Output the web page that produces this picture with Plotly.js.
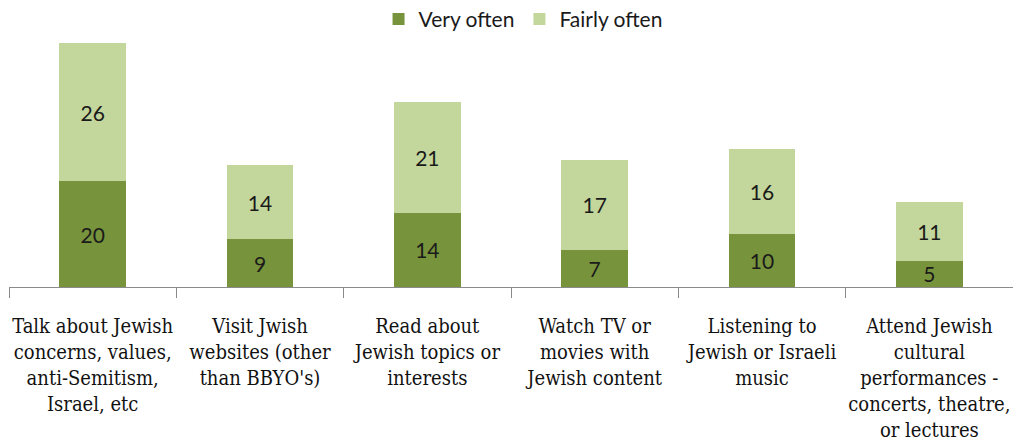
<!DOCTYPE html>
<html><head><meta charset="utf-8">
<script src="https://cdn.plot.ly/plotly-3.0.1.min.js"></script>
<style>html,body{margin:0;padding:0;background:#fff}#c{width:1013px;height:443px}</style>
</head><body><div id="c"></div>
<script>
const categories = [
  "Talk about Jewish<br>concerns, values,<br>anti-Semitism,<br>Israel, etc",
  "Visit Jwish<br>websites (other<br>than BBYO's)",
  "Read about<br>Jewish topics or<br>interests",
  "Watch TV or<br>movies with<br>Jewish content",
  "Listening to<br>Jewish or Israeli<br>music",
  "Attend Jewish<br>cultural<br>performances -<br>concerts, theatre,<br>or lectures"
];
const veryOften = [20, 9, 14, 7, 10, 5];
const fairlyOften = [26, 14, 21, 17, 16, 11];
const seriesNames = ["Very often", "Fairly often"];

const labelFont = {family: "Lato", size: 21, color: "#1a1a1a"};
const traces = [
  {type: "bar", name: seriesNames[0], x: categories, y: veryOften,
   marker: {color: "#77933C"}, text: veryOften.map(String), textposition: "inside",
   insidetextanchor: "middle", textangle: 0, constraintext: "none", textfont: labelFont, hoverinfo: "none"},
  {type: "bar", name: seriesNames[1], x: categories, y: fairlyOften,
   marker: {color: "#C3D69B"}, text: fairlyOften.map(String), textposition: "inside",
   insidetextanchor: "middle", textangle: 0, constraintext: "none", textfont: labelFont, hoverinfo: "none"}
];
const layout = {
  width: 1013, height: 443,
  margin: {l: 9, r: 0, t: 22, b: 156, autoexpand: false},
  barmode: "stack", bargap: 0.6,
  paper_bgcolor: "#fff", plot_bgcolor: "#fff",
  showlegend: true,
  legend: {orientation: "h", traceorder: "normal", x: 0.512, xanchor: "center", y: 1.01, yanchor: "middle",
           font: {family: "Lato", size: 21, color: "#1a1a1a"}},
  xaxis: {type: "category", range: [-0.5, 5.5], showline: true, linecolor: "#8a8a8a", linewidth: 1,
          ticks: "outside", tickson: "boundaries", ticklen: 10, tickcolor: "#8a8a8a",
          ticklabelstandoff: 21, automargin: false,
          tickfont: {family: "DejaVu Serif Condensed", size: 20, color: "#111"},
          tickangle: 0, showgrid: false, zeroline: false, fixedrange: true},
  yaxis: {range: [0, 50], visible: false, showgrid: false, zeroline: false, fixedrange: true}
};
Plotly.newPlot("c", traces, layout, {displayModeBar: false, staticPlot: true});
</script></body></html>
